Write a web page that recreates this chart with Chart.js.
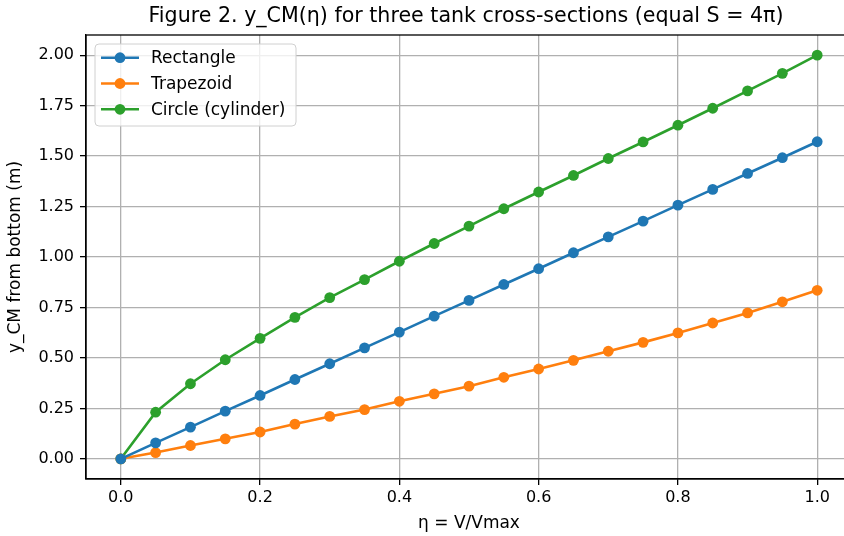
<!DOCTYPE html>
<html>
<head>
<meta charset="utf-8">
<script src="https://cdn.jsdelivr.net/npm/chart.js@4.4.1/dist/chart.umd.min.js"></script>
<style>
    html, body { margin: 0; padding: 0; background: #fff; overflow: hidden; }
    #wrap { width: 932px; height: 536px; }
</style>
</head>
<body>
<div id="wrap"><canvas id="chart"></canvas></div>
<script>
const eta = [0, 0.05, 0.1, 0.15, 0.2, 0.25, 0.3, 0.35, 0.4, 0.45, 0.5,
             0.55, 0.6, 0.65, 0.7, 0.75, 0.8, 0.85, 0.9, 0.95, 1.0];
const rectangle = [0, 0.079, 0.157, 0.236, 0.314, 0.393, 0.471, 0.550, 0.628, 0.707, 0.785,
                   0.864, 0.942, 1.021, 1.100, 1.178, 1.257, 1.335, 1.414, 1.492, 1.571];
const trapezoid = [0, 0.031, 0.066, 0.099, 0.133, 0.172, 0.210, 0.244, 0.285, 0.322, 0.360,
                   0.404, 0.445, 0.488, 0.533, 0.577, 0.624, 0.673, 0.723, 0.778, 0.835];
const circle = [0, 0.231, 0.372, 0.491, 0.597, 0.701, 0.799, 0.888, 0.979, 1.067, 1.153,
                1.239, 1.322, 1.404, 1.488, 1.570, 1.653, 1.737, 1.823, 1.910, 2.000];
const seriesNames = ['Rectangle', 'Trapezoid', 'Circle (cylinder)'];
const seriesColors = ['#1f77b4', '#ff7f0e', '#2ca02c'];
const xTicks = [0, 0.2, 0.4, 0.6, 0.8, 1.0];
const yTicks = [0, 0.25, 0.5, 0.75, 1.0, 1.25, 1.5, 1.75, 2.0];
const titleText = 'Figure 2. y_CM(η) for three tank cross-sections (equal S = 4π)';

const FONT = 'DejaVu Sans';

function makeSet(name, color, values) {
    return {
        label: name,
        data: eta.map((x, i) => ({ x: x, y: values[i] })),
        borderColor: color,
        backgroundColor: color,
        borderWidth: 2.6,
        pointRadius: 5.4,
        pointBorderWidth: 0,
        pointHoverRadius: 5.4,
        tension: 0
    };
}

// matplotlib style: title over the axes, box around them, legend upper left
const frameAndLegend = {
    id: 'frameAndLegend',
    afterDraw(chart) {
        const { ctx, chartArea: a } = chart;
        ctx.save();
        ctx.fillStyle = '#000';
        ctx.font = '20.6px ' + FONT;
        ctx.textAlign = 'center';
        ctx.textBaseline = 'middle';
        ctx.fillText(titleText, (a.left + a.right) / 2 - 3, 17);

        ctx.strokeStyle = '#000';
        ctx.lineWidth = 1.3;
        ctx.strokeRect(a.left, a.top, a.right - a.left, a.bottom - a.top);

        const x0 = a.left + 9, y0 = a.top + 9, w = 201, h = 82, r = 4;
        ctx.beginPath();
        ctx.moveTo(x0 + r, y0);
        ctx.arcTo(x0 + w, y0, x0 + w, y0 + h, r);
        ctx.arcTo(x0 + w, y0 + h, x0, y0 + h, r);
        ctx.arcTo(x0, y0 + h, x0, y0, r);
        ctx.arcTo(x0, y0, x0 + w, y0, r);
        ctx.closePath();
        ctx.fillStyle = 'rgba(255,255,255,0.8)';
        ctx.fill();
        ctx.strokeStyle = '#d0d0d0';
        ctx.lineWidth = 1;
        ctx.stroke();

        chart.data.datasets.forEach((ds, i) => {
            const cy = y0 + 13.7 + i * 25.8;
            ctx.strokeStyle = ds.borderColor;
            ctx.lineWidth = 2.6;
            ctx.beginPath();
            ctx.moveTo(x0 + 6, cy);
            ctx.lineTo(x0 + 44, cy);
            ctx.stroke();
            ctx.fillStyle = ds.borderColor;
            ctx.beginPath();
            ctx.arc(x0 + 25, cy, 5.4, 0, Math.PI * 2);
            ctx.fill();
            ctx.fillStyle = '#000';
            ctx.font = '17px ' + FONT;
            ctx.textAlign = 'left';
            ctx.textBaseline = 'middle';
            ctx.fillText(ds.label, x0 + 56, cy + 1);
        });
        ctx.restore();
    }
};

new Chart(document.getElementById('chart').getContext('2d'), {
    type: 'line',
    data: {
        datasets: [
            makeSet(seriesNames[0], seriesColors[0], rectangle),
            makeSet(seriesNames[1], seriesColors[1], trapezoid),
            makeSet(seriesNames[2], seriesColors[2], circle)
        ]
    },
    options: {
        responsive: true,
        maintainAspectRatio: false,
        animation: false,
        devicePixelRatio: 1,
        layout: { padding: { left: 0, right: 80, top: 35, bottom: 0 } },
        plugins: {
            legend: { display: false },
            tooltip: { enabled: false },
            title: { display: false }
        },
        scales: {
            x: {
                type: 'linear',
                min: -0.05,
                max: 1.05,
                afterBuildTicks: s => { s.ticks = xTicks.map(v => ({ value: v })); },
                afterFit: s => { s.height = 57; },
                grid: { color: '#b0b0b0', lineWidth: 1.3, tickLength: 6, tickColor: '#000', tickWidth: 1.3 },
                border: { color: '#000', width: 1.3 },
                ticks: {
                    color: '#000',
                    font: { family: FONT, size: 16 },
                    padding: 3,
                    maxRotation: 0,
                    autoSkip: false,
                    callback: v => v.toFixed(1)
                },
                title: {
                    display: true,
                    text: 'η = V/Vmax',
                    color: '#000',
                    font: { family: FONT, size: 17 },
                    padding: { top: 0, bottom: 2 }
                }
            },
            y: {
                type: 'linear',
                min: -0.1,
                max: 2.1,
                afterBuildTicks: s => { s.ticks = yTicks.map(v => ({ value: v })); },
                afterFit: s => { s.width = 86; },
                grid: { color: '#b0b0b0', lineWidth: 1.3, tickLength: 6, tickColor: '#000', tickWidth: 1.3 },
                border: { color: '#000', width: 1.3 },
                ticks: {
                    color: '#000',
                    font: { family: FONT, size: 16 },
                    padding: 6,
                    autoSkip: false,
                    callback: v => v.toFixed(2)
                },
                title: {
                    display: true,
                    text: 'y_CM from bottom (m)',
                    color: '#000',
                    font: { family: FONT, size: 17 },
                    padding: { top: 5, bottom: 0 }
                }
            }
        }
    },
    plugins: [frameAndLegend]
});
</script>
</body>
</html>
